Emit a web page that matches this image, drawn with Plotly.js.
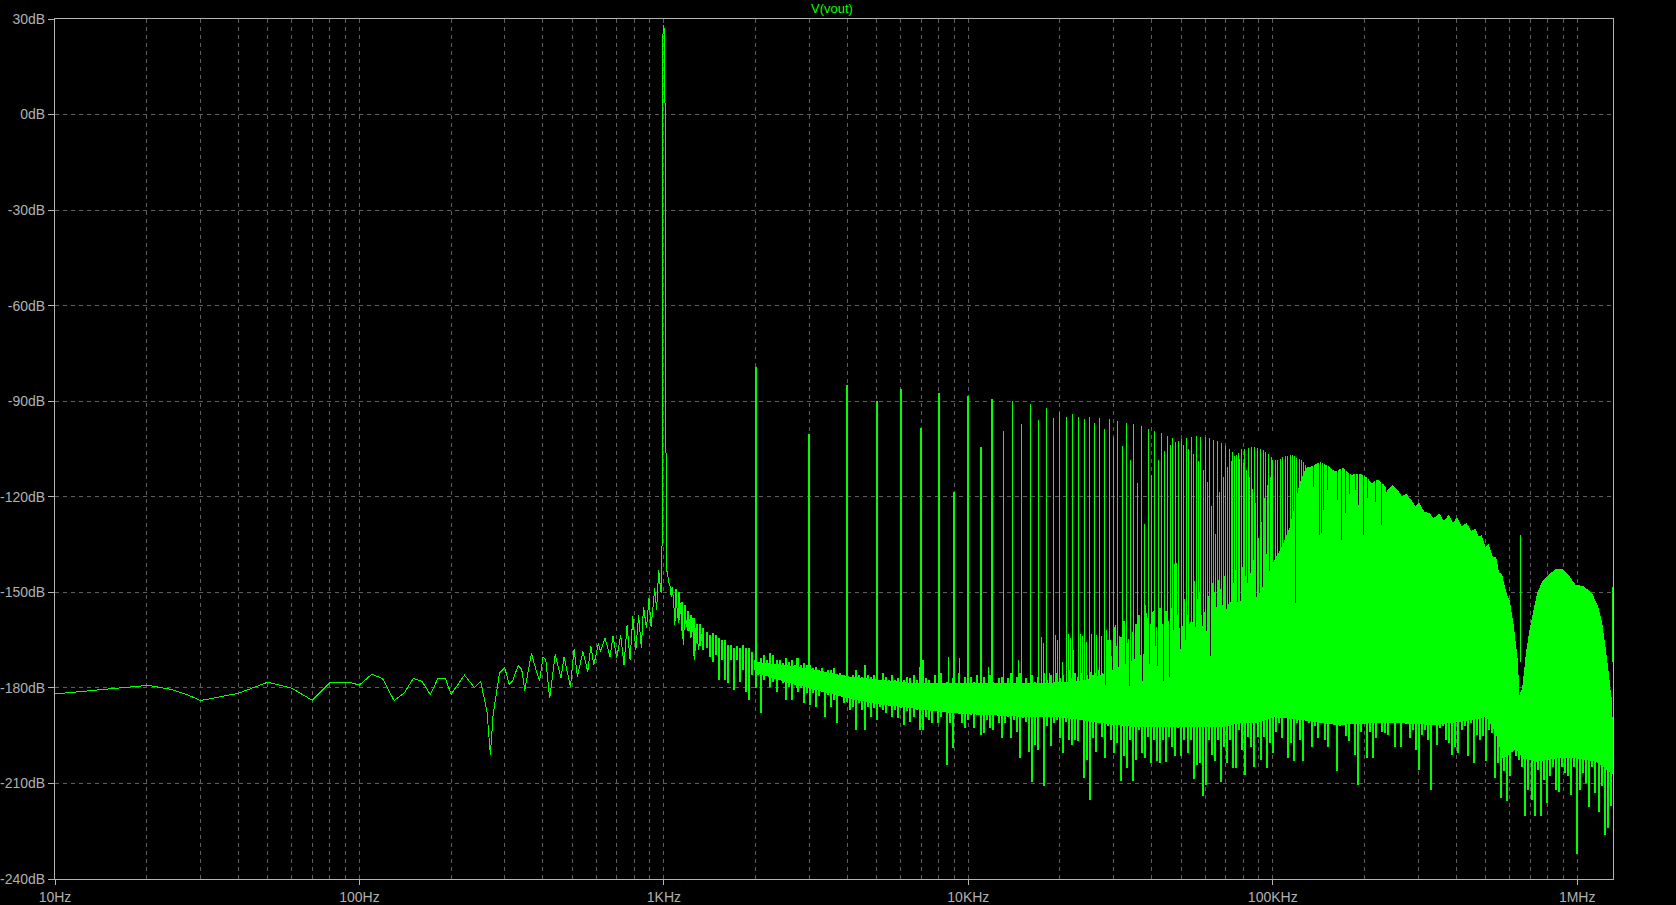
<!DOCTYPE html>
<html><head><meta charset="utf-8">
<script src="https://cdn.plot.ly/plotly-3.0.0.min.js"></script>
<style>html,body{margin:0;padding:0;background:#000}#c{width:1676px;height:905px}
.scatterlayer .js-line,.scatterlayer .js-fill{shape-rendering:crispEdges}</style>
</head><body><div id="c"></div>
<script>
// ---- axis labels
const majorFreq=[10,100,1000,10000,100000,1000000];
const majorFreqText=['10Hz','100Hz','1KHz','10KHz','100KHz','1MHz'];
const minorFreq=[20,30,40,50,60,70,80,90,200,300,400,500,600,700,800,900,2000,3000,4000,5000,6000,7000,8000,9000,20000,30000,40000,50000,60000,70000,80000,90000,200000,300000,400000,500000,600000,700000,800000,900000];
const dbTicks=[30,0,-30,-60,-90,-120,-150,-180,-210,-240];
const dbTickText=['30dB','0dB','-30dB','-60dB','-90dB','-120dB','-150dB','-180dB','-210dB','-240dB'];

// ---- low-frequency trace: log10(Hz), dB
const lowDecade=[1,1.305,1.378,1.437,1.477,1.602,1.699,1.778,1.845,1.903,1.964,2,2.041,2.076,2.114,2.148,2.177,2.206,2.233,2.258,2.282,2.301,2.345,2.378,2.398,2.419,2.430,2.439,2.460,2.477,2.492,2.504,2.521,2.533,2.543,2.565,2.580,2.592,2.603,2.612,2.625,2.643,2.662,2.672,2.693,2.705,2.716,2.734,2.750,2.760,2.770,2.785,2.792,2.807,2.823,2.833,2.845,2.858,2.869,2.879,2.889,2.898,2.908,2.917,2.926,2.933,2.943,2.951,2.958,2.970,2.976,2.983,2.990];
const lowDb=[-181.9,-179.2,-180.4,-182.2,-184,-181.7,-178.2,-180.1,-183.9,-178.3,-178.2,-179.1,-175.7,-177.1,-184,-181.5,-177,-178,-182.1,-177,-177,-182,-176,-179.9,-177.9,-187.4,-201,-188.5,-175.4,-173.6,-178.9,-177.7,-173,-174.2,-180.8,-169.1,-174.4,-177.7,-170.4,-171.2,-183.3,-169.5,-177,-170.2,-179.6,-167.9,-176.5,-168.6,-174.9,-166.8,-172.8,-166,-168.6,-164.4,-170.2,-163.7,-170.7,-163.4,-172.9,-160.3,-171.2,-157.6,-168.1,-157.1,-167.6,-154.5,-161.3,-151.9,-160.8,-148.8,-155.5,-143,-149.8];
// ---- fundamental
const peakDecade=[2.9925,2.9938,2.9948,2.9958,3.0,3.003,3.0062,3.0076,3.010];
const peakDb=[-150,-143,-60,24,28,22.3,-60,-143,-143.5];
// ---- skirt above the fundamental
const skirtDecade=[3.012,3.015,3.021,3.024,3.027,3.032,3.036,3.040,3.045,3.049,3.053,3.061,3.064,3.069,3.075,3.082,3.088,3.093,3.101,3.106,3.114,3.119,3.128];
const skirtDb=[-143.5,-146.7,-148.2,-151.6,-148.2,-152.4,-160.3,-151.4,-157.1,-159.7,-153.5,-161.3,-166.5,-155.5,-160.8,-157.6,-164.4,-158.2,-171.2,-160.3,-168.1,-161.3,-167];

// ---- harmonics of 1 kHz
const strongKHz=[2,3,4,5,6,7,8,9,10,11,12];
const strongDb=[-79.4,-100.2,-85,-90,-86.2,-98.5,-87.5,-118.6,-88.4,-104.5,-89.4];
const harmonicKHz=[13,14,15,16,17,18,19,20,21,22,23,24,25,26,27,28,29,30,31,32,33,34,35,36,37,38,39,40,41,42,43,44,45,46,47,48,49,50,51,52,53,54,55,56,57,58,59,60,61,62,63,64,65,66,67,68,69,70,71,72,73,74,75,76,77,78,79,80,81,82,83,84,85,86,87,88,89,90,91,92,93,94,95,96,97,98,99,100,102,104,106,108,110,112,114,116,118,120,122,124,126,128,130];
const harmonicDb=[-99.4,-90,-97,-91,-96,-92,-95.4,-93.3,-95.1,-94.1,-95.1,-95.6,-95.1,-96.9,-95.4,-98.8,-95.6,-101.2,-96.3,-104.1,-96.7,-108.3,-97.2,-115.8,-97.8,-128.4,-98.6,-113.2,-99.2,-108.3,-100,-105.7,-100.8,-103.8,-101.6,-102.8,-102.5,-102,-103.8,-101.7,-105.1,-101.3,-106.6,-101,-108.8,-101.3,-111.6,-101.3,-115.3,-101.6,-122.9,-102.2,-131.7,-102.6,-118.4,-103.2,-113.7,-103.9,-110.6,-105,-108.8,-106,-107.2,-106.8,-106.4,-108.1,-105.1,-109.5,-105.1,-111.6,-104.8,-113.9,-104.5,-117.4,-104.5,-122.1,-104.8,-133,-105.1,-127.8,-105.4,-120.5,-106,-116.3,-106.7,-113.9,-107.4,-108.5,-108.3,-108.5,-108,-107.6,-107.3,-107.1,-107,-107,-107.2,-107.7,-108.1,-108.5,-109,-110,-110.6];

// ---- top edge of the solid band: log10(Hz), dB
const topDecade=[3.30,3.40,3.50,3.60,3.70,3.80,3.87,3.98,4.09,4.2,4.29,4.377,4.443,4.53,4.618,4.673,4.728,4.782,4.837,4.892,4.946,4.96,5.001,5.03,5.056,5.076,5.089,5.11,5.1225,5.156,5.1828,5.2029,5.2297,5.2565,5.29,5.3101,5.3235,5.3436,5.3637,5.3771,5.3932,5.4106,5.424,5.4374,5.4575,5.4682,5.4803,5.4977,5.5138,5.5272,5.5459,5.562,5.5781,5.5915,5.6049,5.621,5.6357,5.6518,5.6652,5.6746,5.6853,5.6987,5.7081,5.7228,5.7322,5.7416,5.7523,5.7657,5.7764,5.7898,5.8032,5.8093,5.8211,5.8313,5.8328,5.8461,5.8595,5.8702,5.8863,5.9064,5.9332,5.9533,5.9734,5.9935,6.0203,6.0471,6.0672,6.0806,6.094,6.1034,6.1067,6.1122,6.1142,6.1175];
const topDb=[-172,-173,-174.5,-176.5,-177.5,-178.5,-178.5,-178.5,-178.5,-178.5,-178.5,-178,-176,-172,-167,-162,-160,-156,-154,-153,-152,-150,-141,-136,-130,-122,-116,-111,-110.8,-109.2,-110.6,-112.2,-111.1,-113.2,-113,-114.2,-116,-114.8,-116.3,-118.1,-116.6,-118.1,-120.2,-119.2,-121.6,-123.1,-122.1,-125,-125.2,-127.1,-125.4,-127.8,-125.9,-128.6,-126.7,-129.6,-128.4,-131,-130.2,-132.5,-132.3,-136.2,-135.2,-139.3,-139,-143.8,-144.6,-150.3,-152.4,-160.3,-171.2,-183,-180,-171,-169.1,-161.3,-155,-150.3,-146.7,-144.6,-142.7,-143,-145.1,-147.7,-148.2,-150.3,-154.5,-159.7,-169.1,-176.5,-179.7,-184.7,-189,-195];
// ---- bottom edge of the solid band
const floorDecade=[3.30,3.40,3.50,3.60,3.70,3.80,3.87,3.98,4.09,4.2,4.29,4.377,4.443,4.53,4.618,4.728,4.837,4.892,4.946,5.0,5.10,5.21,5.319,5.428,5.538,5.647,5.702,5.734,5.756,5.80,5.822,5.866,5.931,5.997,6.063,6.1175];
const floorDb=[-175,-178,-180.5,-183,-185,-186,-187,-188,-188.5,-189,-189,-190,-191,-192,-192,-192,-192,-191,-191,-189,-190,-191.5,-191,-191,-191.5,-190,-189,-194,-202,-199,-202,-203,-202,-202,-203,-207];

// ---- noise columns read along the band: [log10(Hz), upper tip dB, lower tip dB]
const noiseColumns=[
[3.04,-149,-154],[3.05,-150,-158],[3.06,-153,-162],[3.07,-154,-160],[3.08,-156,-162],[3.09,-157,-164],[3.10,-158,-170],[3.11,-160,-166],[3.12,-160,-167],
[3.13,-161.3,-168.1],[3.14,-162.3,-167.6],[3.15,-163.4,-170.2],[3.16,-162.9,-171.8],[3.17,-163.4,-169.7],[3.18,-164.4,-177.5],[3.19,-165,-171.2],[3.20,-165,-177.5],[3.21,-166.5,-178.5],[3.22,-166.5,-171.2],[3.23,-167.6,-180.6],[3.24,-167,-171.2],[3.25,-167.6,-178],[3.26,-166.5,-174.4],[3.27,-167.6,-181.2],[3.28,-167.6,-183.8],[3.29,-168.6,-176],
[3.30,-171.2,-174.4],[3.31,-172.3,-176],[3.32,-170.7,-188],[3.33,-169.7,-177.5],[3.34,-171.2,-176],[3.35,-169.1,-179.6],[3.36,-169.7,-178],[3.37,-171.2,-181.2],[3.38,-171.2,-177],[3.39,-172.3,-178.5],[3.40,-170.7,-183.8],[3.41,-171.8,-179.6],[3.42,-171.2,-183.8],[3.43,-172.8,-179.1],[3.44,-170.7,-181.2],[3.45,-172.8,-180.1],[3.46,-172.3,-184.8],[3.47,-172.8,-181.7],[3.48,-172.8,-185.3],[3.49,-173.8,-181.7],
[3.50,-173.3,-185.9],[3.51,-174.4,-182.7],[3.52,-173.8,-181.2],[3.53,-175.4,-189],[3.54,-174.4,-182.2],[3.55,-174.4,-185.9],[3.56,-173.8,-183.8],[3.57,-176,-191.1],[3.58,-175.4,-182.7],[3.59,-176,-184.8],[3.60,-174.9,-184.3],[3.61,-176.5,-186.9],[3.62,-176,-185.9],[3.63,-174.4,-193.2],[3.64,-176,-184.8],[3.65,-176.5,-186.9],[3.66,-172.8,-193.2],[3.67,-176,-185.9],[3.68,-176.5,-189],[3.69,-176,-186.4],
[3.70,-175.4,-190],[3.71,-177.5,-185.9],[3.72,-175.4,-186.9],[3.73,-176.5,-188],[3.74,-177.5,-184.8],[3.75,-176,-189],[3.76,-177.5,-186.9],[3.77,-177,-189.5],[3.78,-175.4,-186.4],[3.79,-177.5,-191.6],[3.80,-176.5,-187.4],[3.81,-177,-190.6],[3.82,-176,-189],[3.83,-177.5,-186.9],[3.84,-173.3,-193.2],[3.85,-171.2,-193.2],[3.86,-177,-189],
[3.87,-177.5,-190],[3.88,-179.6,-191.1],[3.89,-176,-186.4],[3.90,-179.1,-191.1],[3.91,-175.4,-189],[3.92,-178.5,-186.9],[3.93,-178,-204.2],[3.94,-179.6,-191.1],[3.95,-177,-198.9],[3.96,-178.5,-186.4],[3.97,-175.4,-186.9],[3.98,-178.5,-191.1],[3.99,-176.5,-192.7],[4.00,-179.1,-190],[4.01,-176.5,-188.5],[4.02,-178,-192.7],[4.03,-175.9,-188.5],[4.04,-179.6,-194.8],[4.05,-176.5,-194.2],[4.06,-178.5,-190],[4.07,-175.9,-192.7],[4.08,-178,-193.2],[4.09,-179.1,-188.5],[4.10,-177,-191.1],[4.11,-176.5,-195.8],[4.12,-178.5,-191.1],[4.13,-177,-189],[4.14,-175.4,-195.8],[4.15,-179.6,-190],[4.16,-176.5,-193.7],[4.17,-175.4,-202.1],[4.18,-178.5,-189.5],[4.19,-177,-190.6],[4.20,-179.1,-200],[4.21,-176,-209.7],[4.22,-178,-197.9],[4.23,-176.5,-199.5],[4.24,-178.5,-188.5],[4.25,-175.4,-210.9],[4.26,-177.5,-192.1],[4.27,-176,-198.2],[4.28,-178,-191.1],[4.29,-175.4,-190],[4.30,-177,-195.8],[4.31,-176,-200.5],[4.32,-178,-190.6],[4.33,-174.4,-196.3],[4.34,-177,-197.9],[4.35,-175.4,-196.3],[4.36,-176.5,-196.8],[4.37,-175.4,-190],[4.38,-177.5,-208.3],[4.39,-175.9,-202.6],[4.40,-174.9,-215.3],[4.41,-176,-195.8],[4.42,-175.4,-200],[4.43,-174.4,-191.1],[4.44,-175.4,-195.3],
[4.45,-168,-202.1],[4.46,-165,-192.1],[4.47,-170,-196.3],[4.48,-161,-200.5],[4.49,-167,-197.4],[4.50,-164,-209.2],[4.51,-159,-201.5],[4.52,-166,-205.2],[4.53,-163,-196.3],[4.54,-168,-209.1],[4.55,-160,-202.6],[4.56,-157,-193.2],[4.57,-163,-200.5],[4.58,-154,-202.1],[4.59,-158,-195.3],[4.60,-160,-203.6],[4.61,-156,-196.3],[4.62,-161,-203.1],[4.63,-155,-203.6],[4.64,-160,-196.3],[4.65,-156,-203.4],[4.66,-159,-195.3],[4.67,-155,-198.4],[4.68,-141,-201.5],[4.69,-157,-192.7],[4.70,-155,-201.5],[4.71,-152,-196.3],[4.72,-157,-200.5],[4.73,-153,-196.3],[4.74,-147,-208.7],[4.75,-152,-204.2],[4.76,-150,-203.6],[4.77,-154,-213.9],[4.78,-148,-210.4],[4.79,-151,-196.3],[4.80,-147,-201],[4.81,-150,-202.8],[4.82,-146,-196.3],[4.83,-149,-209.4],[4.84,-145,-198.4],[4.85,-148,-203.6],[4.86,-144,-196.3],[4.87,-147,-205.2],[4.88,-143,-205.2],[4.89,-146,-193.2],[4.90,-142,-199.5],[4.91,-145,-207.3],[4.92,-141,-195.3],[4.93,-144,-198.4],[4.94,-140,-204.7],[4.95,-143,-195.3],[4.96,-139,-202.6],[4.97,-142,-195.3],[4.98,-138,-205],
[4.99,-183,-197.3],[5.00,-183,-200.5],[5.01,-183,-193.7],[5.02,-183,-191.1],[5.03,-183,-195.8],[5.04,-183,-187.9],[5.05,-183,-202],[5.06,-183,-197.3],[5.07,-183,-203.1],[5.08,-183,-191.1],[5.09,-183,-196.3],[5.10,-183,-203.1],[5.11,-183,-185.8],[5.12,-183,-191.1],[5.13,-183,-198.4],[5.14,-183,-192.1],[5.15,-183,-195.8],[5.16,-183,-189],[5.17,-183,-196.3],[5.18,-183,-198.4],[5.19,-183,-182.7],[5.20,-183,-186.9],[5.21,-183,-206.2],[5.22,-183,-192.1],[5.23,-183,-190.5],[5.24,-183,-195.2],[5.25,-183,-196.8],[5.26,-183,-187.9],[5.27,-183,-201],[5.28,-183,-210.6],[5.29,-183,-193.7],[5.30,-183,-185.8],[5.31,-183,-202],[5.32,-183,-193.7],[5.33,-183,-202],[5.34,-183,-195.8],[5.35,-183,-190.5],[5.36,-183,-193.7],[5.37,-183,-194.2],[5.38,-183,-194.7],[5.39,-183,-186.9],[5.40,-183,-198.4],[5.41,-183,-190.5],[5.42,-183,-198.7],[5.43,-183,-191.1],[5.44,-183,-190.5],[5.45,-183,-195.8],[5.46,-183,-193.2],[5.47,-183,-199.4],[5.48,-183,-205.7],[5.49,-183,-194.7],[5.50,-183,-193.2],[5.51,-183,-196.3],[5.52,-183,-212.2],[5.53,-183,-190.5],[5.54,-183,-197.9],[5.55,-183,-192.6],[5.56,-183,-192.1],[5.57,-183,-196.3],[5.58,-183,-197.3],[5.59,-183,-201],[5.60,-183,-198.6],[5.61,-183,-200.5],[5.62,-183,-193.2],[5.63,-183,-192.1],[5.64,-183,-201.5],[5.65,-183,-191.1],[5.66,-183,-203.6],[5.67,-183,-194.7],[5.68,-183,-196.3],[5.69,-183,-195.2],[5.70,-183,-203.1],[5.71,-183,-193.2],[5.72,-183,-194.2],[5.73,-183,-208.3],[5.74,-183,-203.6],[5.75,-183,-214.6],[5.76,-183,-206.2],[5.77,-183,-215.6],[5.78,-183,-207.8],[5.79,-183,-198.9],[5.80,-183,-201.5],[5.81,-183,-202.6],[5.82,-183,-204.7],[5.83,-183,-220.3],[5.84,-183,-212],[5.85,-183,-215.1],[5.86,-183,-220.3],[5.87,-183,-205.7],[5.88,-183,-220.3],[5.89,-183,-208.8],[5.90,-183,-216],[5.91,-183,-207.8],[5.92,-183,-204.7],[5.93,-183,-212],[5.94,-183,-212.8],[5.95,-183,-204.7],[5.96,-183,-206.8],[5.97,-183,-207.8],[5.98,-183,-213.5],[5.99,-183,-204.7],[6.00,-183,-232.2],[6.01,-183,-212],[6.02,-183,-206.8],[6.03,-183,-209.9],[6.04,-183,-217.5],[6.05,-183,-204.7],[6.06,-183,-213],[6.07,-183,-219.1],[6.08,-183,-210.9],[6.09,-183,-226.3],[6.10,-183,-224],[6.11,-183,-217.2]];

// ---- short comb teeth rising out of the band
const toothDecade=[4.239,4.246,4.268,4.285,4.292,4.299,4.309,4.328,4.335,4.347,4.368,4.374,4.387,4.404,4.420,4.437,4.453,4.466,4.483,4.498,4.509,4.525,4.538,4.561,4.578,4.585,4.606,4.627,4.648,4.666,4.683,4.696,4.742,4.750,3.934,3.971,4.066,4.164,3.436,3.852];
const toothDb=[-163.9,-166,-175.4,-163.4,-165,-140.9,-171.8,-163.1,-164.3,-168.1,-163.1,-163.7,-165.6,-163.1,-163.4,-163.7,-161.8,-165,-160.3,-163.7,-159,-164.7,-162.6,-157.4,-153.7,-156.6,-156.2,-155.8,-155.8,-155.8,-140.9,-156.6,-146.5,-152.4,-170.4,-170.7,-173.3,-171.2,-170.7,-171.2];

// ---- black gaps cut into the solid hump
const gapDecade=[4.450,4.529,4.571,4.594,4.611,4.620,4.640,4.661,4.696,4.713,4.730,4.745,4.768,4.783,4.794,4.812,4.825,4.847,4.862,4.883,4.898,4.916,4.932,4.942,4.953,4.962,4.974,4.987,5.0,5.014,5.027,5.047,5.066,5.074,5.133,5.153,5.160,5.167,5.180,5.212,5.227,5.238,5.251,5.273,5.283,5.297,5.310,5.337,5.357,5.374];
const gapDb=[-179,-179.4,-177.7,-172.5,-170.7,-173,-177.8,-176.5,-167.8,-164.9,-159.2,-160.8,-160.6,-162.1,-170,-167.6,-172.4,-155.2,-152.9,-150.1,-153.2,-147.2,-159,-160.8,-163.9,-158.9,-145.9,-146.1,-147.7,-145.1,-140.4,-142.3,-135.4,-153.2,-116.9,-132,-131.5,-124.2,-117.9,-121,-133.6,-125,-119,-117.9,-122.6,-132,-120.5,-121.6,-128.9,-118.4];

// ---- two isolated lines at the top of the spectrum
const lateDecade=[5.8153,6.1170];
const lateDb=[-132,-148.4];

const GREEN='#00ff00';
const hz=d=>Math.pow(10,d);
function stems(xs,tips,base){
  const x=[],y=[];
  xs.forEach((f,i)=>{x.push(f,f,null);y.push(base,tips[i],null);});
  return {x,y};
}
function columns(rows){
  const x=[],y=[];
  rows.forEach(r=>{const f=hz(r[0]);x.push(f,f,null);y.push(r[1],r[2],null);});
  return {x,y};
}
function stemTrace(s,w,c){
  return {x:s.x,y:s.y,type:'scatter',mode:'lines',line:{color:c||GREEN,width:w,simplify:false},hoverinfo:'skip',showlegend:false};
}
const bandX=topDecade.map(hz).concat(floorDecade.map(hz).reverse());
const bandY=topDb.concat(floorDb.slice().reverse());

const traces=[
 {x:bandX,y:bandY,type:'scatter',mode:'lines',fill:'toself',fillcolor:GREEN,line:{color:GREEN,width:1,simplify:false},hoverinfo:'skip',showlegend:false},
 stemTrace(columns(noiseColumns),2),
 stemTrace(stems(toothDecade.map(hz),toothDb,-180),1),
 stemTrace(stems(gapDecade.map(hz),gapDb,-100),1,'#000000'),
 stemTrace(stems(strongKHz.map(k=>k*1000),strongDb,-180),2),
 stemTrace(stems(harmonicKHz.map(k=>k*1000),harmonicDb,-182),1),
 stemTrace(stems(lateDecade.map(hz),lateDb,-172),1),
 {x:lowDecade.concat(peakDecade,skirtDecade).map(hz),y:lowDb.concat(peakDb,skirtDb),type:'scatter',mode:'lines',line:{color:GREEN,width:1,simplify:false},hoverinfo:'skip',showlegend:false}
];
const GRID='#5f5f5f', FRAME='#b4b4b4', LABEL='#b0b0b0';
const tickFont={family:'"Liberation Sans",Arial,sans-serif',size:14,color:LABEL};
const layout={
 width:1676,height:905,paper_bgcolor:'#000',plot_bgcolor:'#000',showlegend:false,
 margin:{l:54.5,r:62.7,t:18.5,b:25.7,pad:0},
 title:{text:'V(vout)',font:{family:'"Liberation Sans",Arial,sans-serif',size:13,color:GREEN},xref:'container',yref:'container',x:832/1676,xanchor:'center',y:1-8/905,yanchor:'middle'},
 xaxis:{type:'log',range:[1,Math.log10(1311000)],tickmode:'array',tickvals:majorFreq,ticktext:majorFreqText,tickfont:tickFont,ticks:'outside',ticklen:5,tickcolor:FRAME,tickwidth:1,
  showgrid:true,gridcolor:GRID,gridwidth:1,griddash:'4px,4px',showline:true,linecolor:FRAME,linewidth:1,mirror:true,zeroline:false,
  minor:{tickmode:'array',tickvals:minorFreq,ticks:'',showgrid:true,gridcolor:GRID,gridwidth:1,griddash:'4px,4px'}},
 yaxis:{range:[-240,30],tickmode:'array',tickvals:dbTicks,ticktext:dbTickText,tickfont:tickFont,ticks:'outside',ticklen:6,tickcolor:FRAME,tickwidth:1,
  showgrid:true,gridcolor:GRID,gridwidth:1,griddash:'4px,4px',showline:true,linecolor:FRAME,linewidth:1,mirror:true,zeroline:false}
};
Plotly.newPlot('c',traces,layout,{displayModeBar:false,staticPlot:true});
</script></body></html>
